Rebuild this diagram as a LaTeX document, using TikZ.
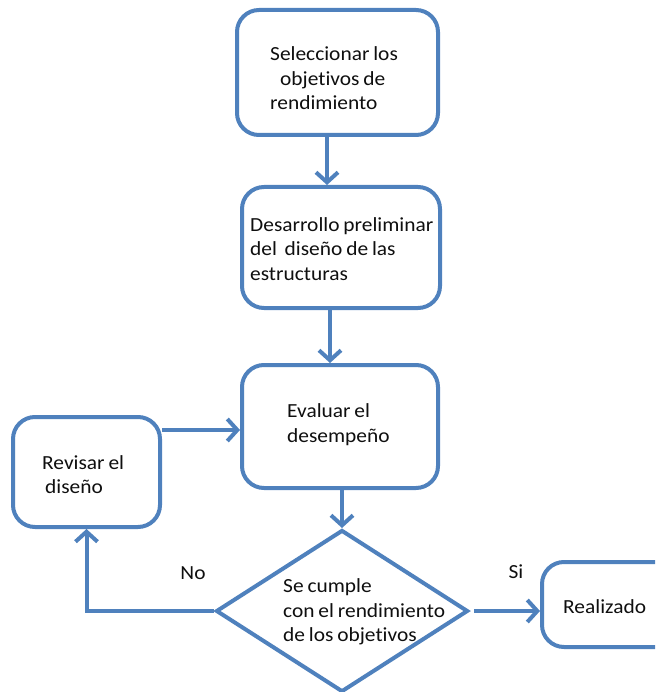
\documentclass[tikz,border=0pt]{standalone}
\usepackage{fontspec}
\setmainfont{Carlito}[FakeStretch=1.07, Ligatures=NoCommon, WordSpace=0.8]
\usetikzlibrary{arrows.meta,shapes.geometric,calc}
\definecolor{flowblue}{RGB}{79,129,189}
\definecolor{inkdark}{RGB}{15,15,15}

\begin{document}
\begin{tikzpicture}[x=1pt,y=-1pt,
  box/.style={draw=flowblue, line width=4pt, rounded corners=22pt, fill=white, inner sep=0pt},
  txt/.style={font=\fontsize{20}{24.5}\selectfont, text=inkdark, align=left, anchor=west, inner sep=0pt},
  lbl/.style={font=\fontsize{20}{24.5}\selectfont, text=inkdark, inner sep=0pt},
  arr/.style={draw=flowblue, line width=4pt, -{Straight Barb[length=10pt,width=22pt,line width=4pt]}}]

\clip (0,0) rectangle (655,692);

% process boxes
\node[box, minimum width=201pt, minimum height=125pt] (b1) at (337.5,72.5) {};
\node[box, minimum width=198pt, minimum height=121pt] (b2) at (341,247.5) {};
\node[box, minimum width=196pt, minimum height=123pt] (b3) at (340,426.5) {};
\node[box, minimum width=147pt, minimum height=110pt] (rev) at (86.5,472) {};
\node[box, minimum width=158pt, minimum height=85pt] (real) at (621,604.5) {};

% decision
\node[diamond, draw=flowblue, line width=4pt, fill=white, inner sep=0pt,
      minimum width=252pt, minimum height=162pt] (dec) at (342,611) {};

% box texts
\node[txt] (t1) at (270,78.5) {Seleccionar los\\\hspace*{10pt}objetivos de\\rendimiento};
\node[txt] (t2) at (250,249) {Desarrollo preliminar\\del\ \ diseño de las\\estructuras};
\node[txt] (t3) at (287,424.5) {Evaluar el\\desempeño};
\node[txt] (trev) at (42,474.5) {Revisar el\\\hspace*{3pt}diseño};
\node[txt] (treal) at (563,607) {Realizado};
\node[txt] (tdec) at (283,612) {Se cumple\\con el rendimiento\\de los objetivos};

% branch labels
\node[lbl] (no) at (193,573) {No};
\node[lbl] (si) at (516,572) {Si};

% connectors
\draw[arr] ([xshift=-10.5pt]b1.south) -- ([xshift=-10.5pt]b1.south |- b2.north);
\draw[arr] ([xshift=-11pt]b2.south) -- ([xshift=-11pt]b2.south |- b3.north);
\draw[arr] (dec.north |- b3.south) -- (dec.north);
\draw[arr] ([yshift=42pt]rev.east) -- ([yshift=42pt]rev.east -| b3.west);
\draw[arr] (dec.west) -| (rev.south);
\draw[arr] ([xshift=4pt]dec.east) -- (dec.east -| real.west);
\end{tikzpicture}
\end{document}
